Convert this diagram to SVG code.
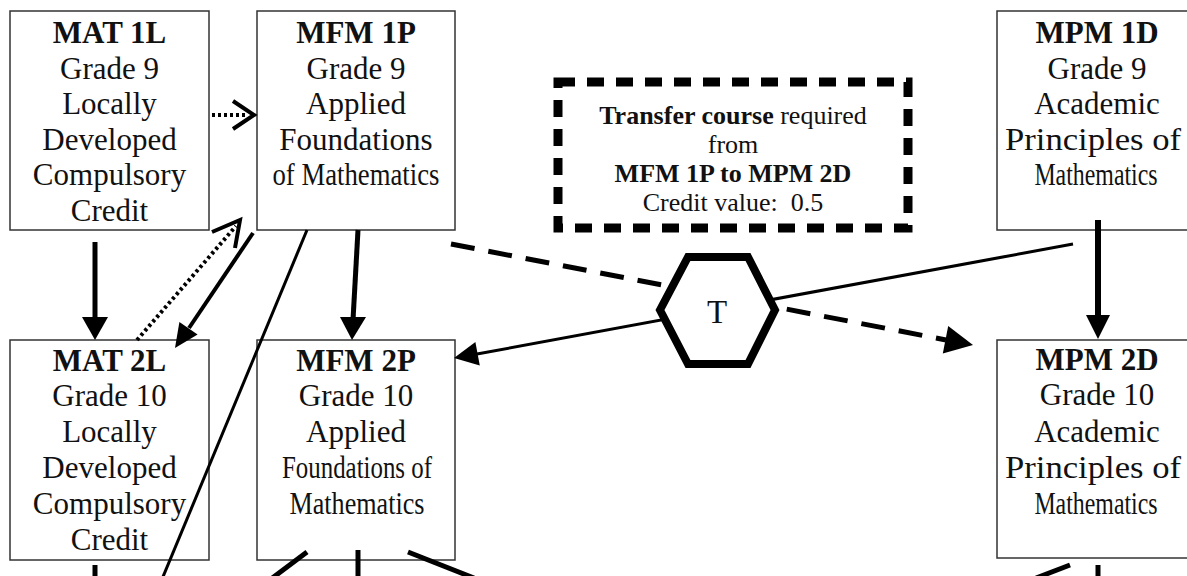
<svg xmlns="http://www.w3.org/2000/svg" width="1187" height="576" viewBox="0 0 1187 576">
<style>
.box{fill:#fff;stroke:#333;stroke-width:1.5}
.t{font-family:"Liberation Serif","Times New Roman",serif;font-size:31px;fill:#111;text-anchor:middle}
.b{font-weight:bold}
.s{font-family:"Liberation Serif","Times New Roman",serif;font-size:26px;fill:#111;text-anchor:middle}
.ln{stroke:#000;fill:none;stroke-linecap:butt}
.dot{stroke:#000;fill:none;stroke-width:4;stroke-dasharray:3 3}
.head{fill:#000;stroke:none}
.chev{stroke:#000;fill:none;stroke-width:4;stroke-linejoin:miter}
</style>
<rect width="1187" height="576" fill="#fff"/>
<g id="mat1l">
<rect class="box" x="10" y="11" width="199" height="219"/>
<text class="t b" x="109.5" y="43">MAT 1L</text>
<text class="t" x="109.5" y="79">Grade 9</text>
<text class="t" x="109.5" y="114">Locally</text>
<text class="t" x="109.5" y="150">Developed</text>
<text class="t" x="109.5" y="185">Compulsory</text>
<text class="t" x="109.5" y="221">Credit</text>
</g>
<g id="mfm1p">
<rect class="box" x="257" y="11" width="198" height="219"/>
<text class="t b" x="356" y="43">MFM 1P</text>
<text class="t" x="356" y="79">Grade 9</text>
<text class="t" x="356" y="114">Applied</text>
<text class="t" x="356" y="150">Foundations</text>
<text class="t" x="356" y="185" textLength="167" lengthAdjust="spacingAndGlyphs">of Mathematics</text>
</g>
<g id="mpm1d">
<rect class="box" x="997" y="11" width="199" height="219"/>
<text class="t b" x="1097" y="43">MPM 1D</text>
<text class="t" x="1097" y="79">Grade 9</text>
<text class="t" x="1097" y="114">Academic</text>
<text class="t" x="1093" y="150" textLength="176" lengthAdjust="spacingAndGlyphs">Principles of</text>
<text class="t" transform="translate(1096,185) scale(0.77,1)">Mathematics</text>
</g>
<g id="transfer">
<rect x="558" y="82" width="350" height="146" fill="none" stroke="#000" stroke-width="9" stroke-dasharray="17 12"/>
<text class="s" x="733" y="124"><tspan font-weight="bold">Transfer course</tspan> required</text>
<text class="s" x="733" y="153">from</text>
<text class="s b" x="733" y="182">MFM 1P to MPM 2D</text>
<text class="s" x="733" y="211" xml:space="preserve">Credit value:  0.5</text>
</g>
<g id="mat2l">
<rect class="box" x="10" y="340" width="199" height="220"/>
<text class="t b" x="109.5" y="371">MAT 2L</text>
<text class="t" x="109.5" y="406">Grade 10</text>
<text class="t" x="109.5" y="442">Locally</text>
<text class="t" x="109.5" y="478">Developed</text>
<text class="t" x="109.5" y="514">Compulsory</text>
<text class="t" x="109.5" y="550">Credit</text>
</g>
<g id="mfm2p">
<rect class="box" x="257" y="340" width="198" height="220"/>
<text class="t b" x="356" y="371">MFM 2P</text>
<text class="t" x="356" y="406">Grade 10</text>
<text class="t" x="356" y="442">Applied</text>
<text class="t" x="357" y="478" textLength="150" lengthAdjust="spacingAndGlyphs">Foundations of</text>
<text class="t" x="357" y="514" textLength="135" lengthAdjust="spacingAndGlyphs">Mathematics</text>
</g>
<g id="mpm2d">
<rect class="box" x="997" y="340" width="199" height="218"/>
<text class="t b" x="1097" y="370">MPM 2D</text>
<text class="t" x="1097" y="405">Grade 10</text>
<text class="t" x="1097" y="442">Academic</text>
<text class="t" x="1093" y="478" textLength="176" lengthAdjust="spacingAndGlyphs">Principles of</text>
<text class="t" transform="translate(1096,514) scale(0.77,1)">Mathematics</text>
</g>
<g id="connectors">
<line class="ln" x1="95" y1="242" x2="95" y2="320" stroke-width="5"/>
<polygon class="head" points="82,317 108,317 95,340"/>
<line class="dot" x1="212" y1="115" x2="246" y2="115"/>
<polyline class="chev" points="233,101 254,115 233,129"/>
<line class="dot" x1="137" y1="340" x2="236" y2="226"/>
<polyline class="chev" points="212,232 240,220 235,248"/>
<line class="ln" x1="253" y1="233" x2="189" y2="328" stroke-width="4"/>
<polygon class="head" points="197.6,334.4 179.4,322 175,348"/>
<line class="ln" x1="307" y1="230" x2="160" y2="584" stroke-width="3"/>
<line class="ln" x1="358" y1="230" x2="353" y2="320" stroke-width="5"/>
<polygon class="head" points="340,317 366,317 352,340"/>
<line class="ln" x1="451" y1="244" x2="946" y2="340" stroke-width="5" stroke-dasharray="24 14"/>
<polygon class="head" points="942.8,353.4 948.2,325.9 973,345"/>
<line class="ln" x1="1073" y1="244" x2="477" y2="354" stroke-width="3"/>
<polygon class="head" points="479.8,365.5 475.4,341.9 454,358"/>
<line class="ln" x1="1098" y1="220" x2="1098" y2="318" stroke-width="6"/>
<polygon class="head" points="1086,315 1110,315 1098,339"/>
<line class="ln" x1="95" y1="565" x2="95" y2="580" stroke-width="5"/>
<line class="ln" x1="307" y1="552" x2="271" y2="579" stroke-width="5"/>
<line class="ln" x1="358" y1="550" x2="358" y2="580" stroke-width="5"/>
<line class="ln" x1="408" y1="552" x2="474" y2="578" stroke-width="5"/>
<line class="ln" x1="1070" y1="565" x2="1036" y2="578" stroke-width="5"/>
<line class="ln" x1="1098" y1="565" x2="1098" y2="580" stroke-width="5"/>
</g>
<g id="hexT">
<polygon points="688,257 748,257 775,310 748,364 688,364 660,310" fill="#fff" stroke="#000" stroke-width="8"/>
<text x="717" y="323" font-family="Liberation Serif, Times New Roman, serif" font-size="33" fill="#111" text-anchor="middle">T</text>
</g>
</svg>
